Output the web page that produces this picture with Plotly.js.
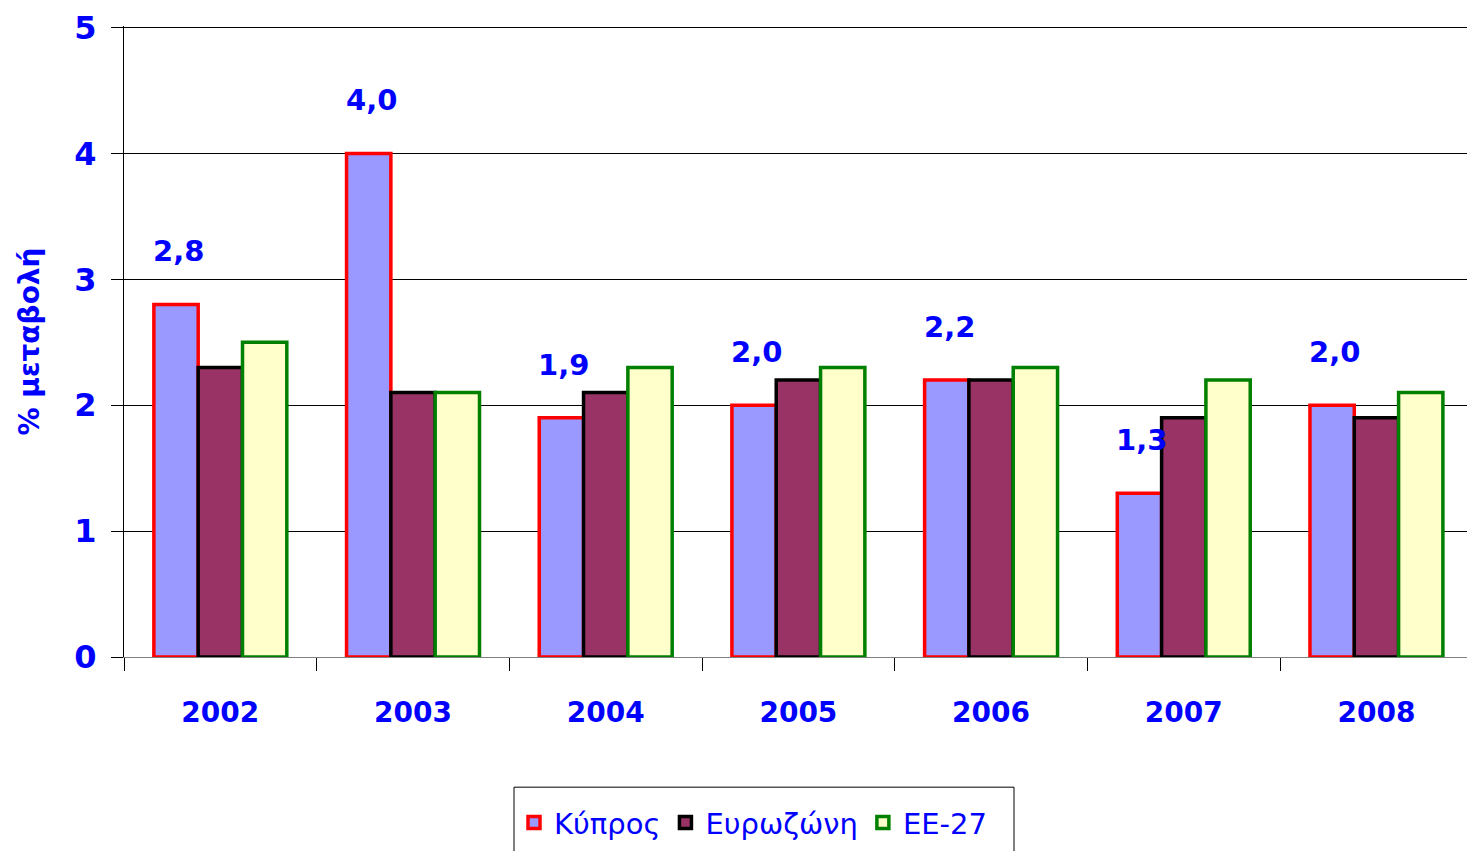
<!DOCTYPE html>
<html>
<head>
<meta charset="utf-8">
<script src="https://cdn.plot.ly/plotly-3.0.1.min.js"></script>
<style>html,body{margin:0;padding:0;background:#fff;}#chart{width:1467px;height:851px;}</style>
</head>
<body>
<div id="chart"></div>
<script>
const years = ['2002','2003','2004','2005','2006','2007','2008'];
const cyprus = [2.8, 4.0, 1.9, 2.0, 2.2, 1.3, 2.0];
const eurozone = [2.3, 2.1, 2.1, 2.2, 2.2, 1.9, 1.9];
const eu27 = [2.5, 2.1, 2.3, 2.3, 2.3, 2.2, 2.1];
const seriesNames = ['Κύπρος', 'Ευρωζώνη', 'ΕΕ-27'];
const yTicks = [0, 1, 2, 3, 4, 5];

const FONT = 'DejaVu Sans, Verdana, sans-serif';
const BLUE = '#0000FF';

const traces = [
  {type:'bar', name:seriesNames[0], x:years, y:cyprus,
   marker:{color:'#9999FF', line:{color:'#FF0000', width:3.5}}},
  {type:'bar', name:seriesNames[1], x:years, y:eurozone,
   marker:{color:'#993366', line:{color:'#000000', width:3.5}}},
  {type:'bar', name:seriesNames[2], x:years, y:eu27,
   marker:{color:'#FFFFCC', line:{color:'#008000', width:3.5}}}
];

const annotations = years.map((yr, i) => ({
  x: i, y: cyprus[i], xref:'x', yref:'y',
  text: cyprus[i].toFixed(1).replace('.', ','),
  showarrow:false, xanchor:'center', yanchor:'middle',
  xshift:-42, yshift:53,
  font:{family:FONT, size:29, color:BLUE, weight:'bold'}
}));

const layout = {
  width:1467, height:851,
  margin:{l:124, r:0, t:26, b:194},
  paper_bgcolor:'#fff', plot_bgcolor:'#fff',
  barmode:'group', bargap:0.31, bargroupgap:0,
  showlegend:true,
  legend:{orientation:'h', x:0.2904, xanchor:'left', y:-0.2222, yanchor:'top',
    borderwidth:0, bgcolor:'rgba(0,0,0,0)',
    font:{family:FONT, size:29, color:BLUE}, itemwidth:30},
  shapes:[
    {type:'rect', xref:'paper', yref:'paper', x0:0.2904, x1:0.6627, y0:-0.2063, y1:-0.34,
     line:{color:'#000', width:1}, fillcolor:'rgba(0,0,0,0)', layer:'below'}
  ],
  xaxis:{type:'category', range:[-0.5, 6.47], autorange:false,
    tickson:'boundaries', ticks:'outside', ticklen:13,
    tickcolor:'#000', showline:true, linecolor:'#808080', linewidth:1,
    ticklabelstandoff:30,
    tickfont:{family:FONT, size:28, color:BLUE, weight:'bold'},
    showgrid:false, zeroline:false},
  yaxis:{range:[0,5.012], autorange:false, tickvals:yTicks, ticktext:yTicks.map(String),
    ticks:'outside', ticklen:12, tickcolor:'#000',
    showline:true, linecolor:'#000', linewidth:1,
    showgrid:true, gridcolor:'#000', gridwidth:1, zeroline:false,
    ticklabelstandoff:8,
    tickfont:{family:FONT, size:32, color:BLUE, weight:'bold'},
    title:{text:'% μεταβολή', standoff:26, font:{family:FONT, size:28, color:BLUE, weight:'bold'}}},
  annotations: annotations
};

Plotly.newPlot('chart', traces, layout, {displayModeBar:false, staticPlot:true});
</script>
</body>
</html>
